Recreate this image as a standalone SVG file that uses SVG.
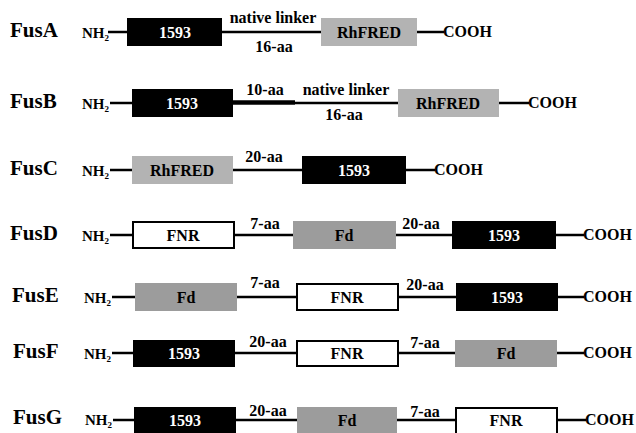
<svg xmlns="http://www.w3.org/2000/svg" width="636" height="433" viewBox="0 0 636 433" font-family="'Liberation Serif', 'DejaVu Serif', serif" font-weight="bold">
<style>
text{font-family:'Liberation Serif','DejaVu Serif',serif;font-weight:700;fill:#000}
.name{font-size:21px}
.term{font-size:15px}
.sub{font-size:9px}
.cooh{font-size:16px}
.lbl{font-size:16px;text-anchor:middle}
.in{font-size:16px;text-anchor:middle}
.wt{fill:#fff}
.blk{fill:#000}
.rh{fill:#b3b3b3}
.fd{fill:#9c9c9c}
.fnr{fill:#fff;stroke:#000;stroke-width:2}
.ln{stroke:#000;stroke-width:2.5;fill:none}
.thick{stroke:#000;stroke-width:4.5;fill:none}
</style>
<rect width="636" height="433" fill="#fff"/>
<g id="connectors">
<line class="ln" x1="108" y1="32" x2="127" y2="32"/>
<line class="ln" x1="222" y1="32" x2="321" y2="32"/>
<line class="ln" x1="417" y1="32" x2="444" y2="32"/>
<text class="lbl" x="273" y="23">native linker</text>
<text class="lbl" x="274" y="52">16-aa</text>
<line class="ln" x1="110" y1="103" x2="132" y2="103"/>
<line class="thick" x1="233" y1="102.5" x2="295" y2="102.5"/>
<line class="ln" x1="295" y1="103" x2="398" y2="103"/>
<line class="ln" x1="499" y1="103" x2="529" y2="103"/>
<text class="lbl" x="265" y="95">10-aa</text>
<text class="lbl" x="346" y="95">native linker</text>
<text class="lbl" x="344" y="120">16-aa</text>
<line class="ln" x1="110" y1="170" x2="132" y2="170"/>
<line class="ln" x1="233" y1="170" x2="302" y2="170"/>
<line class="ln" x1="406" y1="170" x2="435" y2="170"/>
<text class="lbl" x="264" y="162">20-aa</text>
<line class="ln" x1="110" y1="235" x2="132" y2="235"/>
<line class="ln" x1="234" y1="235" x2="293" y2="235"/>
<line class="ln" x1="396" y1="235" x2="452" y2="235"/>
<line class="ln" x1="556" y1="235" x2="584" y2="235"/>
<text class="lbl" x="265" y="229">7-aa</text>
<text class="lbl" x="421" y="229">20-aa</text>
<line class="ln" x1="112" y1="297" x2="135" y2="297"/>
<line class="ln" x1="237" y1="297" x2="296" y2="297"/>
<line class="ln" x1="398" y1="297" x2="456" y2="297"/>
<line class="ln" x1="558" y1="297" x2="584" y2="297"/>
<text class="lbl" x="265" y="288">7-aa</text>
<text class="lbl" x="425" y="290">20-aa</text>
<line class="ln" x1="112" y1="353" x2="133" y2="353"/>
<line class="ln" x1="235" y1="353" x2="296" y2="353"/>
<line class="ln" x1="398" y1="353" x2="455" y2="353"/>
<line class="ln" x1="557" y1="353" x2="584" y2="353"/>
<text class="lbl" x="268" y="347">20-aa</text>
<text class="lbl" x="425" y="348">7-aa</text>
<line class="ln" x1="113" y1="420" x2="134" y2="420"/>
<line class="ln" x1="236" y1="420" x2="297" y2="420"/>
<line class="ln" x1="397" y1="420" x2="455" y2="420"/>
<line class="ln" x1="557" y1="420" x2="586" y2="420"/>
<text class="lbl" x="268" y="416">20-aa</text>
<text class="lbl" x="425" y="417">7-aa</text>
</g>
<g id="FusA">
<text class="name" x="10" y="37">FusA</text>
<text class="term" x="82" y="38">NH<tspan class="sub" dy="3">2</tspan></text>
<rect class="blk" x="127" y="18" width="95" height="28"/>
<text class="in wt" x="175" y="38">1593</text>
<rect class="rh" x="321" y="18" width="96" height="28"/>
<text class="in" x="369" y="38">RhFRED</text>
<text class="cooh" x="443" y="37">COOH</text>
</g>
<g id="FusB">
<text class="name" x="10" y="108">FusB</text>
<text class="term" x="82" y="109">NH<tspan class="sub" dy="3">2</tspan></text>
<rect class="blk" x="132" y="89" width="101" height="28"/>
<text class="in wt" x="182" y="109">1593</text>
<rect class="rh" x="398" y="89" width="101" height="28"/>
<text class="in" x="448" y="109">RhFRED</text>
<text class="cooh" x="528" y="108">COOH</text>
</g>
<g id="FusC">
<text class="name" x="10" y="175">FusC</text>
<text class="term" x="82" y="176">NH<tspan class="sub" dy="3">2</tspan></text>
<rect class="rh" x="132" y="156" width="101" height="28"/>
<text class="in" x="182" y="176">RhFRED</text>
<rect class="blk" x="302" y="156" width="104" height="28"/>
<text class="in wt" x="354" y="176">1593</text>
<text class="cooh" x="434" y="175">COOH</text>
</g>
<g id="FusD">
<text class="name" x="10" y="240">FusD</text>
<text class="term" x="82" y="241">NH<tspan class="sub" dy="3">2</tspan></text>
<rect class="fnr" x="133" y="222" width="101" height="26"/>
<text class="in" x="183" y="241">FNR</text>
<rect class="fd" x="293" y="221" width="103" height="28"/>
<text class="in" x="344" y="241">Fd</text>
<rect class="blk" x="452" y="221" width="104" height="28"/>
<text class="in wt" x="504" y="241">1593</text>
<text class="cooh" x="583" y="240">COOH</text>
</g>
<g id="FusE">
<text class="name" x="12" y="302">FusE</text>
<text class="term" x="84" y="303">NH<tspan class="sub" dy="3">2</tspan></text>
<rect class="fd" x="135" y="283" width="102" height="28"/>
<text class="in" x="186" y="303">Fd</text>
<rect class="fnr" x="297" y="284" width="101" height="26"/>
<text class="in" x="347" y="303">FNR</text>
<rect class="blk" x="456" y="283" width="102" height="28"/>
<text class="in wt" x="507" y="303">1593</text>
<text class="cooh" x="583" y="302">COOH</text>
</g>
<g id="FusF">
<text class="name" x="13" y="358">FusF</text>
<text class="term" x="84" y="359">NH<tspan class="sub" dy="3">2</tspan></text>
<rect class="blk" x="133" y="340" width="102" height="27"/>
<text class="in wt" x="184" y="359">1593</text>
<rect class="fnr" x="297" y="341" width="101" height="25"/>
<text class="in" x="347" y="359">FNR</text>
<rect class="fd" x="455" y="340" width="102" height="27"/>
<text class="in" x="506" y="359">Fd</text>
<text class="cooh" x="583" y="358">COOH</text>
</g>
<g id="FusG">
<text class="name" x="13" y="424">FusG</text>
<text class="term" x="85" y="425">NH<tspan class="sub" dy="3">2</tspan></text>
<rect class="blk" x="134" y="407" width="102" height="28"/>
<text class="in wt" x="185" y="426">1593</text>
<rect class="fd" x="297" y="407" width="100" height="28"/>
<text class="in" x="347" y="426">Fd</text>
<rect class="fnr" x="456" y="408" width="101" height="28"/>
<text class="in" x="506" y="426">FNR</text>
<text class="cooh" x="585" y="425">COOH</text>
</g>
</svg>
